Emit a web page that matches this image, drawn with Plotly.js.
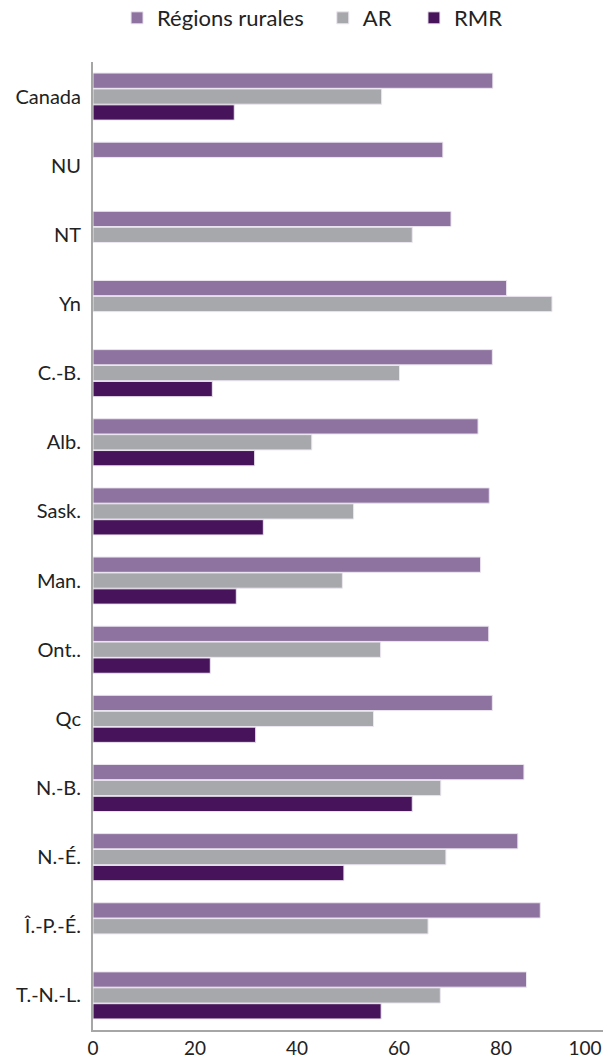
<!DOCTYPE html>
<html>
<head>
<meta charset="utf-8">
<script src="https://cdn.plot.ly/plotly-3.0.1.min.js"></script>
<style>
  html, body { margin: 0; padding: 0; background: #fff; }
  #chart { width: 616px; height: 1061px; }
</style>
</head>
<body>
<div id="chart"></div>
<script>
var regions = ['Canada', 'NU', 'NT', 'Yn', 'C.-B.', 'Alb.', 'Sask.', 'Man.', 'Ont..', 'Qc', 'N.-B.', 'N.-É.', 'Î.-P.-É.', 'T.-N.-L.'];
var rural = [78.4, 68.6, 70.2, 81.1, 78.3, 75.5, 77.7, 76.0, 77.6, 78.3, 84.5, 83.3, 87.7, 85.0];
var ar    = [56.6, null, 62.6, 90.0, 60.1, 42.9, 51.1, 48.9, 56.4, 55.0, 68.2, 69.2, 65.7, 68.1];
var rmr   = [27.7, null, null, null, 23.4, 31.7, 33.4, 28.1, 23.0, 31.9, 62.6, 49.2, null, 56.5];
var xTicks = [0, 20, 40, 60, 80, 100];

var fontFam = 'Lato, "Open Sans", sans-serif';

function series(name, values, color, legendId) {
    return {
        type: 'bar',
        orientation: 'h',
        name: name,
        legend: legendId,
        y: regions,
        x: values,
        marker: { color: color, line: { color: '#ece6f0', width: 1 } },
        hoverinfo: 'x+y+name'
    };
}

var data = [
    series('Régions rurales', rural, '#8e729f', 'legend'),
    series('AR', ar, '#a7a8ac', 'legend2'),
    series('RMR', rmr, '#47145b', 'legend3'),
    // empty trace so the overlay axis carrying the last tick label gets drawn
    { type: 'scatter', x: [], y: [], xaxis: 'x2', yaxis: 'y', showlegend: false, hoverinfo: 'skip' }
];

function legendAt(x) {
    return {
        orientation: 'h',
        xref: 'container', yref: 'container',
        x: x, xanchor: 'left',
        y: 0.983, yanchor: 'middle',
        bgcolor: 'rgba(0,0,0,0)',
        font: { family: fontFam, size: 22, color: '#222' },
        itemwidth: 30
    };
}

var mainTicks = xTicks.slice(0, -1);
var lastTick = xTicks.slice(-1);

var baseX = {
    range: [0, 100],
    showgrid: false,
    zeroline: false,
    ticks: '',
    tickfont: { size: 19 },
    automargin: false,
    fixedrange: true
};

var layout = {
    width: 616,
    height: 1061,
    margin: { l: 93, r: 13, t: 62, b: 31 },
    paper_bgcolor: '#fff',
    plot_bgcolor: '#fff',
    font: { family: fontFam, size: 19, color: '#222' },
    barmode: 'group',
    bargap: 0.31,
    bargroupgap: 0.04,
    showlegend: true,
    legend: legendAt(0.19),
    legend2: legendAt(0.524),
    legend3: legendAt(0.672),
    xaxis: Object.assign({}, baseX, {
        tickvals: mainTicks,
        ticktext: mainTicks.map(String),
        showline: true,
        linecolor: '#a6a6a6',
        linewidth: 2
    }),
    // the "100" label is pulled inside the page, as in the original
    xaxis2: Object.assign({}, baseX, {
        overlaying: 'x',
        anchor: 'y',
        side: 'bottom',
        tickvals: lastTick,
        ticktext: lastTick.map(String),
        ticklabelshift: -18,
        ticklabelstandoff: 5,
        showline: false
    }),
    yaxis: {
        autorange: 'reversed',
        showgrid: false,
        zeroline: false,
        showline: true,
        linecolor: '#a6a6a6',
        linewidth: 2,
        ticks: '',
        ticklabelstandoff: 6,
        tickfont: { size: 20 },
        automargin: false,
        fixedrange: true
    }
};

Plotly.newPlot('chart', data, layout, { displayModeBar: false, staticPlot: true });
</script>
</body>
</html>
